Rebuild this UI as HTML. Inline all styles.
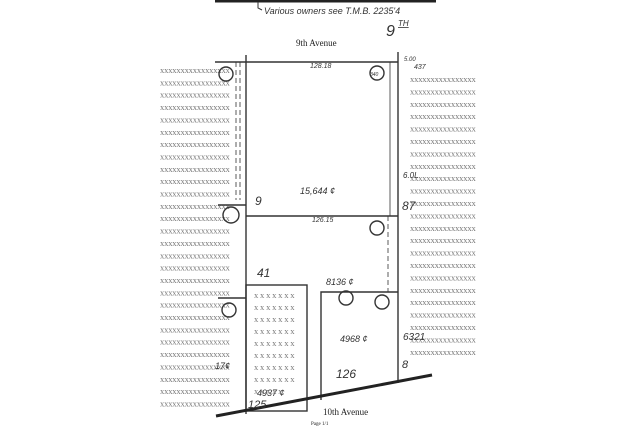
<!DOCTYPE html>
<html><head><meta charset="utf-8"><style>
html,body{margin:0;padding:0;background:#fff;width:640px;height:426px;overflow:hidden}
svg{display:block}
.x{font-family:"Liberation Serif",serif;font-size:8.6px;fill:#777;letter-spacing:-0.2px}
.h{font-family:"Liberation Sans",sans-serif;font-style:italic;fill:#333}
.t{font-family:"Liberation Serif",serif;fill:#222}
</style></head><body>
<svg width="640" height="426" viewBox="0 0 640 426" xmlns="http://www.w3.org/2000/svg">
<g id="L"></g><g id="R"></g>
<line x1="215" y1="1" x2="436" y2="1" stroke="#222" stroke-width="3"/>
<path d="M258 2 v6 l4 2" stroke="#333" fill="none"/>
<text class="h" x="264" y="14" font-size="9">Various owners see T.M.B. 2235'4</text>
<text class="h" x="386" y="36" font-size="16">9</text>
<text class="h" x="398" y="26" font-size="8" text-decoration="underline">TH</text>
<text class="t" x="296" y="46" font-size="9">9th Avenue</text>
<g stroke="#333" fill="none" stroke-width="1.4">
<line x1="215" y1="62" x2="398" y2="62"/>
<line x1="246" y1="55" x2="246" y2="414"/>
<line x1="398" y1="52" x2="398" y2="383"/>
<line x1="246" y1="216" x2="398" y2="216"/>
<line x1="218" y1="205" x2="246" y2="205"/>
<rect x="246" y="285" width="61" height="126"/>
<path d="M321 400 V292 H398"/>
<line x1="218" y1="298" x2="246" y2="298"/>
<line x1="390" y1="62" x2="390" y2="216" stroke-width="0.8"/>
<line x1="236" y1="62" x2="236" y2="200" stroke-width="0.8" stroke-dasharray="5 3"/>
<line x1="240" y1="62" x2="240" y2="200" stroke-width="0.8" stroke-dasharray="5 3"/>
<line x1="388" y1="216" x2="388" y2="292" stroke-width="0.8" stroke-dasharray="5 3"/>
<circle cx="377" cy="73" r="7"/><circle cx="226" cy="74" r="7"/>
<circle cx="231" cy="215" r="8"/><circle cx="377" cy="228" r="7"/>
<circle cx="346" cy="298" r="7"/><circle cx="382" cy="302" r="7"/>
<circle cx="229" cy="310" r="7"/>
</g>
<line x1="216" y1="416" x2="432" y2="375" stroke="#222" stroke-width="3"/>
<g class="h" fill="#333" font-size="7">
<text x="310" y="68">128.18</text><text x="370" y="76" font-size="5">340</text>
<text x="300" y="194" font-size="9">15,644 ¢</text>
<text x="255" y="205" font-size="12">9</text>
<text x="312" y="222">126.15</text>
<text x="326" y="285" font-size="9">8136 ¢</text>
<text x="257" y="277" font-size="12">41</text>
<text x="340" y="342" font-size="9">4968 ¢</text>
<text x="336" y="378" font-size="12">126</text>
<text x="257" y="396" font-size="9">4937 ¢</text>
<text x="248" y="408" font-size="11">125</text>
<text x="403" y="178" font-size="8">6.0L</text>
<text x="402" y="210" font-size="12">87</text>
<text x="403" y="340" font-size="10">6321</text>
<text x="402" y="368" font-size="11">8</text>
<text x="215" y="369" font-size="9">17¢</text>
<text x="404" y="61" font-size="6">5.00</text><text x="414" y="69">437</text>
</g>
<text class="t" x="323" y="415" font-size="9">10th Avenue</text>
<text class="t" x="311" y="425" font-size="5" fill="#888">Page 1/1</text>
<g class="x" fill="#888" font-size="8">
<text x="254" y="298">x x x x x x x</text><text x="254" y="310">x x x x x x x</text>
<text x="254" y="322">x x x x x x x</text><text x="254" y="334">x x x x x x x</text>
<text x="254" y="346">x x x x x x x</text><text x="254" y="358">x x x x x x x</text>
<text x="254" y="370">x x x x x x x</text><text x="254" y="382">x x x x x x x</text>
<text x="254" y="394">x x x x x</text>
</g>
<script>
var ns="http://www.w3.org/2000/svg",L=document.getElementById("L"),R=document.getElementById("R");
for(var i=0;i<28;i++){var t=document.createElementNS(ns,"text");t.setAttribute("class","x");t.setAttribute("x","160");t.setAttribute("y",(73+i*12.35).toFixed(1));t.textContent="xxxxxxxxxxxxxxxxx";L.appendChild(t);}
for(var j=0;j<23;j++){var u=document.createElementNS(ns,"text");u.setAttribute("class","x");u.setAttribute("x","410");u.setAttribute("y",(82+j*12.4).toFixed(1));u.textContent="xxxxxxxxxxxxxxxx";R.appendChild(u);}
</script>
</svg>
</body></html>
